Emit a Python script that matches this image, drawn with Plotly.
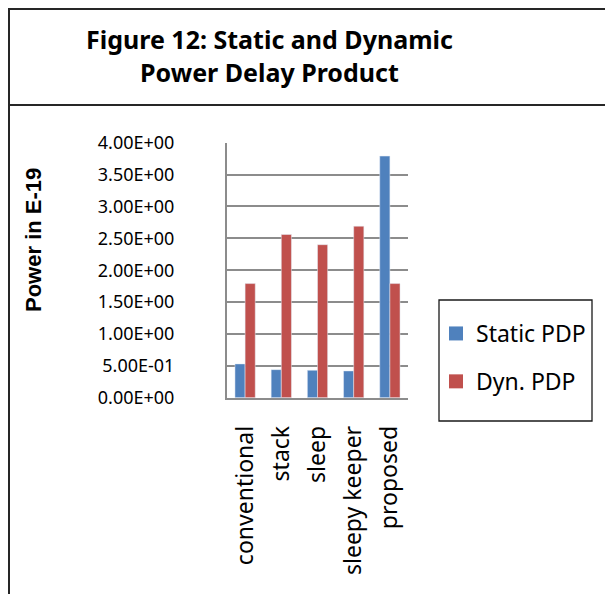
import plotly.graph_objects as go

categories = ["conventional", "stack", "sleep", "sleepy keeper", "proposed"]
static_pdp = [0.53, 0.44, 0.43, 0.42, 3.79]
dyn_pdp = [1.79, 2.56, 2.40, 2.69, 1.79]
y_tick_vals = [0, 0.5, 1.0, 1.5, 2.0, 2.5, 3.0, 3.5, 4.0]
y_tick_text = ["0.00E+00", "5.00E-01", "1.00E+00", "1.50E+00", "2.00E+00",
               "2.50E+00", "3.00E+00", "3.50E+00", "4.00E+00"]
series_names = ["Static PDP", "Dyn. PDP"]
series_colors = ["#4F81BD", "#C0504D"]

W, H = 613, 594
OFF = 8  # page body margin


def px(x):
    return (x - OFF) / W


def py(y):
    return 1 - (y - OFF) / H


fig = go.Figure()
for name, vals, col in zip(series_names, [static_pdp, dyn_pdp], series_colors):
    fig.add_trace(go.Bar(name=name, x=categories, y=vals, marker_color=col,
                         showlegend=False))
# legend entries with larger square swatches
for i, (name, col) in enumerate(zip(series_names, series_colors)):
    fig.add_trace(go.Scatter(name=name, x=[None], y=[None], mode="markers",
                             marker=dict(symbol="square", size=14, color=col),
                             legendgroup="g%d" % i, showlegend=True))

tick_font = dict(family="Noto Sans", size=18, color="black")

fig.update_layout(
    width=W, height=H,
    margin=dict(l=0, r=0, t=0, b=0, autoexpand=False),
    paper_bgcolor="white", plot_bgcolor="white",
    barmode="group", bargap=0.44, bargroupgap=0,
    xaxis=dict(domain=[px(227), px(408)], showline=True, linecolor="#8c8c8c",
               linewidth=2, tickangle=-90,
               tickfont=dict(family="Noto Sans", size=23, color="black"),
               ticks="outside", ticklen=17, tickcolor="rgba(0,0,0,0)",
               showgrid=False, fixedrange=True, automargin=False),
    yaxis=dict(domain=[py(397.7), py(142.7)], range=[0, 4], tickvals=y_tick_vals,
               ticktext=y_tick_text, showgrid=True, gridcolor="#8c8c8c", gridwidth=2,
               showline=True, linecolor="#8c8c8c", linewidth=2,
               ticks="outside", ticklen=47, tickcolor="rgba(0,0,0,0)",
               tickfont=tick_font, zeroline=False, fixedrange=True,
               automargin=False),
    showlegend=True,
    legend=dict(x=px(436), y=py(312), xanchor="left", yanchor="top",
                bgcolor="rgba(0,0,0,0)", borderwidth=0,
                font=dict(family="Noto Sans", size=23, color="black"),
                traceorder="grouped", tracegroupgap=15),
    shapes=[
        dict(type="line", xref="paper", yref="paper", x0=px(9), x1=px(9), y0=py(8), y1=0,
             line=dict(color="#262626", width=2)),
        dict(type="line", xref="paper", yref="paper", x0=px(8), x1=1, y0=py(9), y1=py(9),
             line=dict(color="#262626", width=2)),
        dict(type="line", xref="paper", yref="paper", x0=px(8), x1=1, y0=py(105), y1=py(105),
             line=dict(color="#262626", width=2)),
        dict(type="rect", xref="paper", yref="paper", x0=px(439), x1=px(592), y0=py(300), y1=py(421),
             line=dict(color="#1a1a1a", width=1.3)),
    ],
    annotations=[
        dict(text="<b>Figure 12: Static and Dynamic<br>Power Delay Product</b>", xref="paper", yref="paper",
             x=px(269), y=py(56), xanchor="center", yanchor="middle", showarrow=False,
             font=dict(family="Noto Sans", size=25, color="black")),
        dict(text="<b>Power in E-19</b>", xref="paper", yref="paper",
             x=px(33.5), y=py(240.5), xanchor="center", yanchor="middle", showarrow=False, textangle=-90,
             font=dict(family="Liberation Sans", size=22, color="black")),
    ],
)

fig.write_html("out.html")
